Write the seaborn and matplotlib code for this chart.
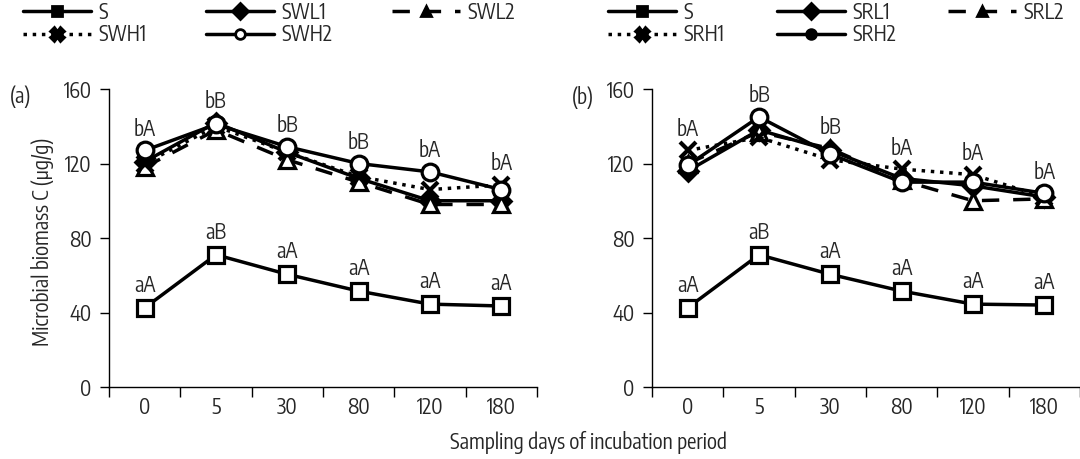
import matplotlib
matplotlib.use("Agg")
import matplotlib.pyplot as plt
from matplotlib.lines import Line2D
from matplotlib import font_manager as fm
import seaborn as sns
import numpy as np

# ---------------- data ----------------
days = ["0", "5", "30", "80", "120", "180"]

names_a = ["S", "SWL1", "SWL2", "SWH1", "SWH2"]
S_a = [42.5, 71, 60.5, 51.5, 44.5, 43.5]
SWL1 = [121, 142, 126, 112, 100, 100]
SWL2 = [118, 138, 122, 110, 98, 98]
SWH1 = [120, 140, 126, 113, 106, 108.5]
SWH2 = [127, 141, 129, 120, 115.5, 106]
top_labels_a = ["bA", "bB", "bB", "bB", "bA", "bA"]
bottom_labels_a = ["aA", "aB", "aA", "aA", "aA", "aA"]

names_b = ["S", "SRL1", "SRL2", "SRH1", "SRH2"]
S_b = [42.5, 71, 60.5, 51.5, 44.5, 44]
SRL1 = [116, 138, 127, 112, 108, 102]
SRL2 = [120, 137, 128, 111, 100, 101]
SRH1 = [127, 134, 122, 117, 114, 102]
SRH2 = [119, 145, 125, 110, 110, 104]
top_labels_b = ["bA", "bB", "bB", "bA", "bA", "bA"]
bottom_labels_b = ["aA", "aB", "aA", "aA", "aA", "aA"]

y_ticks = [0, 40, 80, 120, 160]

# ---------------- style ----------------
sns.set_theme(style="ticks")
narrow = sorted({f.name for f in fm.fontManager.ttflist
                 if ("Narrow" in f.name or "Condensed" in f.name) and "Sans" in f.name})
fams = (narrow[:1] if narrow else []) + ["Liberation Sans", "DejaVu Sans"]
plt.rcParams["font.family"] = fams
FS = 15
plt.rcParams["font.size"] = FS

LW = 2.5
plot_styles = [
    dict(marker="s", ms=11, mfc="white", mew=2.3, ls="-"),
    dict(marker="D", ms=10, mfc="black", mew=2.0, ls="-"),
    dict(marker="^", ms=11, mfc="white", mew=2.3, ls=(0, (5, 4))),
    dict(marker="x", ms=11, mfc="black", mew=3.0, ls=":"),
    dict(marker="o", ms=12, mfc="white", mew=2.3, ls="-"),
]

fig = plt.figure(figsize=(10.8, 4.59), dpi=100)
W, H = 1080, 459
ax_a = fig.add_axes([109 / W, (H - 387) / H, 428 / W, 298 / H])
ax_b = fig.add_axes([652 / W, (H - 387) / H, 428 / W, 298 / H])


def draw_panel(ax, names, series, top_labels, bottom_labels):
    order = [0, 2, 1, 3, 4]
    for k in order:
        st = plot_styles[k]
        sns.lineplot(x=days, y=series[k], ax=ax, color="black", linewidth=LW,
                     marker=st["marker"], markersize=st["ms"],
                     markerfacecolor=st["mfc"], markeredgecolor="black",
                     markeredgewidth=st["mew"], linestyle=st["ls"],
                     sort=False, legend=False, zorder=3 + k)
    top = np.max(np.array(series[1:]), axis=0)
    for i, lab in enumerate(top_labels):
        ax.annotate(lab, (days[i], top[i]), xytext=(0, 15), textcoords="offset points",
                    ha="center", va="center", fontsize=FS)
    for i, lab in enumerate(bottom_labels):
        ax.annotate(lab, (days[i], series[0][i]), xytext=(0, 16), textcoords="offset points",
                    ha="center", va="center", fontsize=FS)
    ax.set_xlim(-0.5, len(days) - 0.5)
    ax.set_ylim(0, 160)
    ax.set_yticks(y_ticks)
    ax.set_yticklabels([str(t) for t in y_ticks])
    ax.set_xticks(range(len(days)))
    ax.set_xticklabels(days)
    ax.set_xticks(np.arange(-0.5, len(days)), minor=True)
    ax.tick_params(axis="x", which="major", length=0, pad=7, labelsize=FS)
    ax.tick_params(axis="x", which="minor", length=7, width=1.0, direction="out", color="black")
    ax.tick_params(axis="y", length=6.5, width=1.0, pad=6, labelsize=FS, color="black")
    for sp in ["top", "right"]:
        ax.spines[sp].set_visible(False)
    for sp in ["left", "bottom"]:
        ax.spines[sp].set_color("black")
        ax.spines[sp].set_linewidth(1.0)
    ax.set_xlabel("")
    ax.set_ylabel("")
    ax.patch.set_alpha(0)


draw_panel(ax_a, names_a, [S_a, SWL1, SWL2, SWH1, SWH2], top_labels_a, bottom_labels_a)
draw_panel(ax_b, names_b, [S_b, SRL1, SRL2, SRH1, SRH2], top_labels_b, bottom_labels_b)


def legend_handles(names, h2_fill):
    leg_styles = [
        dict(marker="s", ms=7, mfc="black", ls="-"),
        dict(marker="D", ms=8, mfc="black", ls="-"),
        dict(marker="^", ms=7, mfc="black", ls=(0, (5, 4))),
        dict(marker="X", ms=10, mfc="black", ls=":"),
        dict(marker="o", ms=7, mfc=h2_fill, ls="-"),
    ]
    hs = []
    for nm, st in zip(names, leg_styles):
        hs.append(Line2D([], [], color="black", lw=LW, ls=st["ls"], marker=st["marker"],
                         ms=st["ms"], mfc=st["mfc"], mec="black", mew=2.0, label=nm))
    return hs


def add_legend(names, h2_fill, x0, colsp):
    hs = legend_handles(names, h2_fill)
    order = [0, 3, 1, 4, 2]
    hs = [hs[i] for i in order]
    return fig.legend(handles=hs, loc="upper left", bbox_to_anchor=(x0, 1.0),
                      ncol=3, frameon=False, fontsize=FS, handlelength=3.27,
                      handletextpad=0.35, columnspacing=colsp, labelspacing=0.0,
                      borderpad=0.05, borderaxespad=0.0)


add_legend(names_a, "white", 22 / W, 2.85)
add_legend(names_b, "black", 607 / W, 2.5)

fig.text(10 / W, 1 - 97 / H, "(a)", ha="left", va="center", fontsize=FS)
fig.text(572 / W, 1 - 97 / H, "(b)", ha="left", va="center", fontsize=FS)
fig.text(43 / W, 1 - 242 / H, "Microbial biomass C (\u03bcg/g)", rotation=90,
         ha="center", va="center", fontsize=FS)
fig.text(589 / W, 1 - 442 / H, "Sampling days of incubation period",
         ha="center", va="center", fontsize=FS)

fig.savefig("out.png", dpi=100)
